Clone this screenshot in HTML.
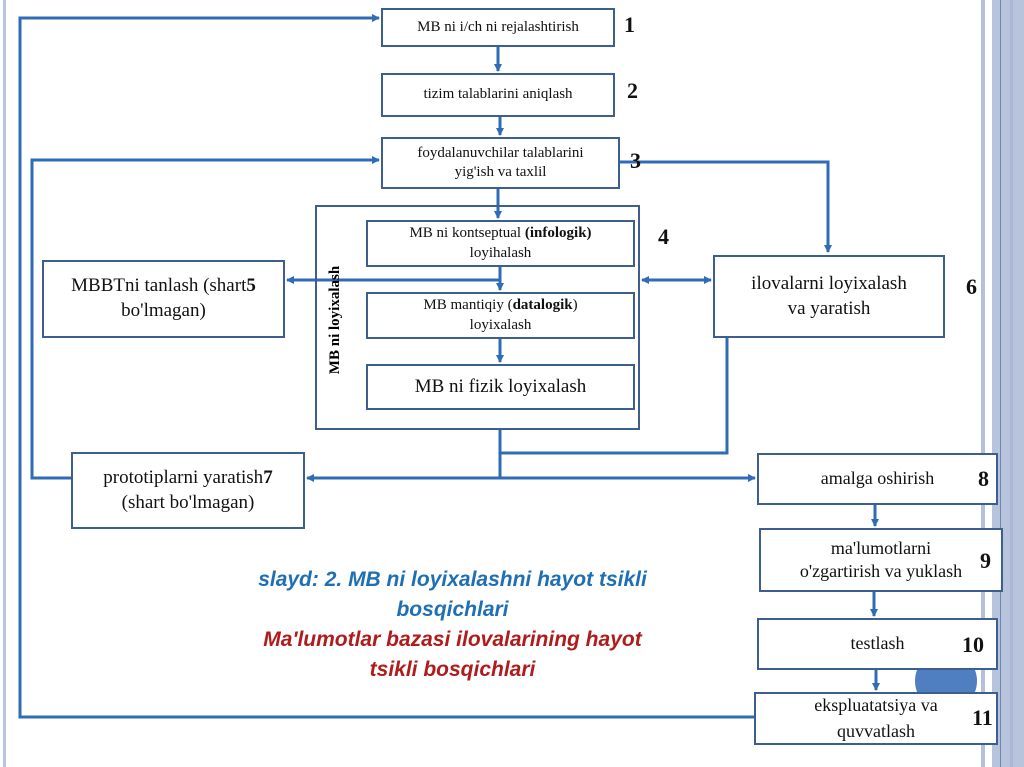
<!DOCTYPE html>
<html><head><meta charset="utf-8"><style>
body{margin:0;width:1024px;height:767px;overflow:hidden;background:#fff;position:relative;font-family:"Liberation Serif",serif}
.b{position:absolute;border:2.5px solid #3c5f8f;background:#fff;box-sizing:border-box;display:flex;align-items:center;justify-content:center;text-align:center;color:#111;line-height:1.3}
.n{position:absolute;font-weight:bold;font-size:22px;color:#111}
.t{position:absolute;left:190px;width:525px;text-align:center;font-family:"Liberation Sans",sans-serif;font-weight:bold;font-style:italic;font-size:21px;line-height:30px}
</style></head><body>
<div style="position:absolute;left:3px;top:0;width:3px;height:767px;background:#b9c5dc"></div>
<div style="position:absolute;left:981px;top:0;width:4px;height:767px;background:#b5c0da"></div>
<div style="position:absolute;left:992px;top:0;width:32px;height:767px;background:#b7c4dc"></div>
<div style="position:absolute;left:1000px;top:0;width:1px;height:767px;background:#6f86b4"></div>
<div style="position:absolute;left:1010px;top:0;width:3px;height:767px;background:#a8b8d6"></div>
<div style="position:absolute;left:915px;top:650px;width:62px;height:62px;border-radius:50%;background:#4f7fc0"></div>
<svg width="1024" height="767" style="position:absolute;left:0;top:0">
<defs><marker id="a" markerWidth="8" markerHeight="8" refX="7" refY="4" orient="auto" markerUnits="userSpaceOnUse"><path d="M0,0L8,4L0,8z" fill="#2f6cb5"/></marker></defs>
<g stroke="#2f6cb5" stroke-width="3" fill="none">
<polyline points="754,717 20,717 20,18 379,18" marker-end="url(#a)"/>
<polyline points="71,478 32,478 32,160 379,160" marker-end="url(#a)"/>
<polyline points="620,162 828,162 828,252" marker-end="url(#a)"/>
<line x1="498" y1="47" x2="498" y2="71" marker-end="url(#a)"/>
<line x1="500" y1="117" x2="500" y2="135" marker-end="url(#a)"/>
<line x1="498" y1="189" x2="498" y2="218" marker-end="url(#a)"/>
<line x1="500" y1="267" x2="500" y2="290" marker-end="url(#a)"/>
<line x1="500" y1="280" x2="287" y2="280" marker-end="url(#a)"/>
<line x1="500" y1="339" x2="500" y2="362" marker-end="url(#a)"/>
<line x1="650" y1="280" x2="711" y2="280" marker-end="url(#a)"/>
<line x1="700" y1="280" x2="642" y2="280" marker-end="url(#a)"/>
<line x1="500" y1="430" x2="500" y2="478"/>
<polyline points="727,338 727,453 500,453"/>
<line x1="500" y1="478" x2="755" y2="478" marker-end="url(#a)"/>
<line x1="500" y1="478" x2="307" y2="478" marker-end="url(#a)"/>
<line x1="875" y1="505" x2="875" y2="526" marker-end="url(#a)"/>
<line x1="874" y1="592" x2="874" y2="616" marker-end="url(#a)"/>
<line x1="876" y1="670" x2="876" y2="690" marker-end="url(#a)"/>
</g></svg>
<div class="b" style="left:381px;top:8px;width:234px;height:39px;font-size:15px"><div>MB ni i/ch ni rejalashtirish</div></div><div class="n" style="left:624px;top:12px">1</div>
<div class="b" style="left:381px;top:73px;width:234px;height:44px;font-size:15px"><div>tizim talablarini aniqlash</div></div><div class="n" style="left:627px;top:78px">2</div>
<div class="b" style="left:381px;top:137px;width:239px;height:52px;font-size:15px"><div>foydalanuvchilar talablarini<br>yig'ish va taxlil</div></div><div class="n" style="left:630px;top:148px">3</div>
<div class="b" style="left:315px;top:205px;width:325px;height:225px;background:transparent"></div>
<div class="n" style="left:658px;top:224px">4</div>
<div style="position:absolute;left:327px;top:395px;transform:rotate(-90deg);transform-origin:0 0;font-weight:bold;font-size:15px;white-space:nowrap;width:150px;text-align:center">MB ni loyixalash</div>
<div class="b" style="left:366px;top:220px;width:269px;height:47px;font-size:15px"><div>MB ni kontseptual <b>(infologik)</b><br>loyihalash</div></div>
<div class="b" style="left:366px;top:292px;width:269px;height:47px;font-size:15px"><div>MB mantiqiy (<b>datalogik</b>)<br>loyixalash</div></div>
<div class="b" style="left:366px;top:364px;width:269px;height:46px;font-size:19px"><div>MB ni fizik loyixalash</div></div>
<div class="b" style="left:42px;top:260px;width:243px;height:78px;font-size:19px"><div>MBBTni tanlash (shart<b>5</b><br>bo'lmagan)</div></div>
<div class="b" style="left:713px;top:255px;width:232px;height:83px;font-size:19px"><div>ilovalarni loyixalash<br>va yaratish</div></div><div class="n" style="left:966px;top:274px">6</div>
<div class="b" style="left:71px;top:452px;width:234px;height:77px;font-size:19px"><div>prototiplarni yaratish<b>7</b><br>(shart bo'lmagan)</div></div>
<div class="b" style="left:757px;top:453px;width:241px;height:52px;font-size:18px"><div>amalga oshirish</div></div><div class="n" style="left:978px;top:466px">8</div>
<div class="b" style="left:759px;top:528px;width:244px;height:64px;font-size:18px"><div>ma'lumotlarni<br>o'zgartirish va yuklash</div></div><div class="n" style="left:980px;top:548px">9</div>
<div class="b" style="left:757px;top:618px;width:241px;height:52px;font-size:18px"><div>testlash</div></div><div class="n" style="left:962px;top:632px">10</div>
<div class="b" style="left:754px;top:692px;width:244px;height:53px;font-size:18px;line-height:1.4"><div>ekspluatatsiya va<br>quvvatlash</div></div><div class="n" style="left:972px;top:705px">11</div>
<div class="t" style="top:565px;color:#1f6fb5">slayd: 2. MB ni loyixalashni hayot tsikli<br>bosqichlari</div>
<div class="t" style="top:625px;color:#b01c1c">Ma'lumotlar bazasi ilovalarining hayot<br>tsikli bosqichlari</div>
</body></html>
